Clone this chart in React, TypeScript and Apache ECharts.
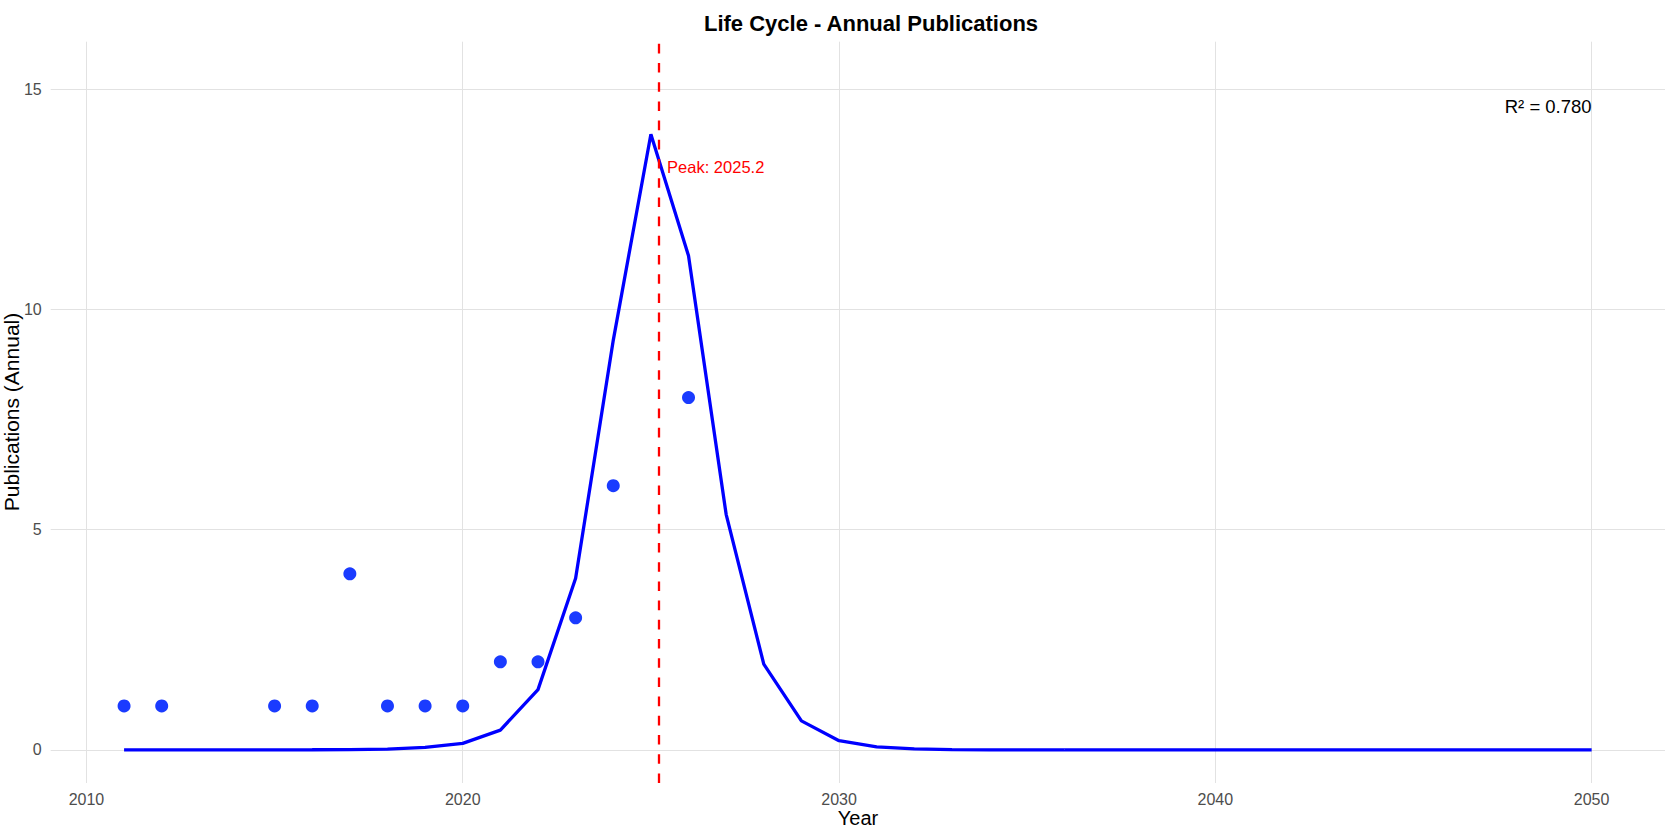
import React, { useEffect, useRef } from "react";
import * as echarts from "echarts";

const observedYears = [2011, 2012, 2015, 2016, 2017, 2018, 2019, 2020, 2021, 2022, 2023, 2024, 2026];
const observedCounts = [1, 1, 1, 1, 4, 1, 1, 1, 2, 2, 3, 6, 8];

const fitYears = [
  2011, 2012, 2013, 2014, 2015, 2016, 2017, 2018, 2019, 2020,
  2021, 2022, 2023, 2024, 2025, 2026, 2027, 2028, 2029, 2030,
  2031, 2032, 2033, 2034, 2035, 2036, 2037, 2038, 2039, 2040,
  2041, 2042, 2043, 2044, 2045, 2046, 2047, 2048, 2049, 2050,
];
const fitValues = [
  0.001, 0.001, 0.001, 0.002, 0.003, 0.005, 0.008, 0.02, 0.06, 0.15,
  0.45, 1.37, 3.9, 9.3, 13.98, 11.22, 5.35, 1.95, 0.66, 0.21,
  0.07, 0.025, 0.008, 0.003, 0.001, 0.0, 0.0, 0.0, 0.0, 0.0,
  0.0, 0.0, 0.0, 0.0, 0.0, 0.0, 0.0, 0.0, 0.0, 0.0,
];

const xTicks = [2010, 2020, 2030, 2040, 2050];
const yTicks = [0, 5, 10, 15];

const peakYear = 2025.2;
const peakLabel = "Peak: 2025.2";
const peakLabelY = 13.23;
const r2Label = "R² = 0.780";
const r2LabelY = 14.62;

const titleText = "Life Cycle - Annual Publications";
const xTitle = "Year";
const yTitle = "Publications (Annual)";

const FONT = "'Liberation Sans', Arial, Helvetica, sans-serif";

export default function App() {
  const ref = useRef<HTMLDivElement>(null);

  useEffect(() => {
    if (!ref.current) return;
    const chart = echarts.init(ref.current, undefined, { renderer: "svg" });
    const gridColor = "#e2e2e2";
    chart.setOption({
      animation: false,
      backgroundColor: "#ffffff",
      textStyle: { fontFamily: FONT },
      title: {
        text: titleText,
        left: 866,
        textAlign: "center",
        top: 7,
        textStyle: { fontFamily: FONT, fontSize: 22, fontWeight: "bold", color: "#000000" },
      },
      grid: {
        left: 50.7,
        right: 0,
        top: 41.7,
        bottom: 45,
        containLabel: false,
        outerBoundsMode: "none",
      },
      graphic: [
        {
          type: "text",
          x: 858,
          y: 817.5,
          silent: true,
          style: {
            text: xTitle,
            fill: "#000000",
            font: `20px ${FONT}`,
            textAlign: "center",
            textVerticalAlign: "middle",
          },
        },
        {
          type: "text",
          x: 11.5,
          y: 412,
          rotation: Math.PI / 2,
          silent: true,
          style: {
            text: yTitle,
            fill: "#000000",
            font: `21px ${FONT}`,
            textAlign: "center",
            textVerticalAlign: "middle",
          },
        },
      ],
      xAxis: {
        type: "value",
        min: 2009.05,
        max: 2051.95,
        axisLine: { show: false },
        axisTick: { show: false, customValues: xTicks },
        axisLabel: {
          customValues: xTicks,
          margin: 8,
          fontSize: 16,
          lineHeight: 16,
          color: "#4d4d4d",
          fontFamily: FONT,
          formatter: (v: number) => String(v),
        },
        splitLine: { show: true, lineStyle: { color: gridColor, width: 1 } },
      },
      yAxis: {
        type: "value",
        min: -0.75,
        max: 16.08,
        axisLine: { show: false },
        axisTick: { show: false, customValues: yTicks },
        axisLabel: {
          customValues: yTicks,
          margin: 9,
          fontSize: 16,
          color: "#4d4d4d",
          fontFamily: FONT,
          formatter: (v: number) => String(v),
        },
        splitLine: { show: true, lineStyle: { color: gridColor, width: 1 } },
      },
      series: [
        {
          type: "line",
          name: "fit",
          data: fitYears.map((y, i) => [y, fitValues[i]]),
          showSymbol: false,
          symbol: "none",
          lineStyle: { color: "#0000ff", width: 3.3 },
          itemStyle: { color: "#0000ff" },
          z: 3,
          silent: true,
        },
        {
          type: "scatter",
          name: "observed",
          data: observedYears.map((y, i) => [y, observedCounts[i]]),
          symbolSize: 13,
          itemStyle: { color: "#1a3bff", opacity: 1 },
          z: 4,
          silent: true,
          markLine: {
            silent: true,
            symbol: "none",
            label: { show: false },
            lineStyle: { color: "#ff0000", width: 2.3, type: [9.6, 9.6] },
            data: [{ xAxis: peakYear }],
          },
          markPoint: {
            silent: true,
            symbol: "circle",
            symbolSize: 0,
            data: [
              {
                coord: [peakYear + 0.23, peakLabelY],
                label: {
                  show: true,
                  formatter: peakLabel,
                  position: "right",
                  distance: 0,
                  color: "#ff0000",
                  fontSize: 16.5,
                  fontFamily: FONT,
                },
              },
              {
                coord: [2050, r2LabelY],
                label: {
                  show: true,
                  formatter: r2Label,
                  position: "left",
                  distance: 0,
                  color: "#000000",
                  fontSize: 18.5,
                  fontFamily: FONT,
                },
              },
            ],
          },
        },
      ],
    });
    return () => chart.dispose();
  }, []);

  return (
    <div
      ref={ref}
      style={{ position: "fixed", left: 0, top: 0, width: 1665, height: 828 }}
    />
  );
}
